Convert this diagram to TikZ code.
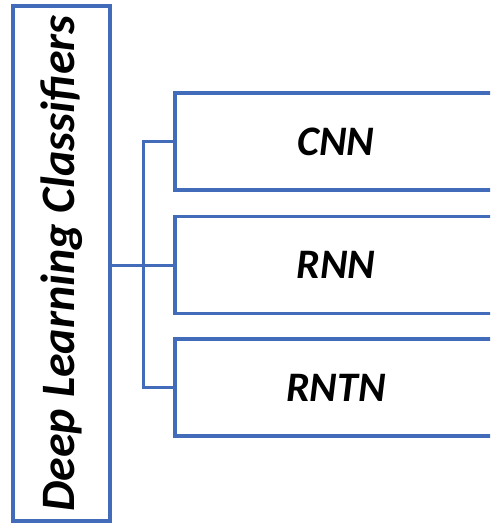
\documentclass[tikz,border=0pt]{standalone}
\usepackage{fontspec}
\setmainfont{Carlito}
\definecolor{boxblue}{RGB}{66,108,186}
\begin{document}
\begin{tikzpicture}[x=1pt,y=-1pt,
  frame/.style={draw=boxblue,line width=3.5pt,inner sep=0pt},
  leafbox/.style={frame,minimum width=322pt,minimum height=97pt},
  link/.style={draw=boxblue,line width=3pt},
  lbl/.style={font=\fontsize{42}{48}\selectfont\bfseries\itshape},
  rootlbl/.style={font=\fontsize{48}{54}\selectfont\bfseries\itshape}]
\useasboundingbox (0,0) rectangle (490,524);
\clip (0,0) rectangle (490,524);
\node[frame,minimum width=97pt,minimum height=515pt,rootlbl] (root) at (61.5,263.5)
  {\rotatebox{90}{Deep Learning Classifiers}};
\node[leafbox,lbl] (cnn) at (336,141.5) {CNN};
\node[leafbox,lbl] (rnn) at (336,265) {RNN};
\node[leafbox,lbl] (rntn) at (336,387.5) {RNTN};
\coordinate (j) at (143,265);
\draw[link] (root.east |- j) -- (rnn.west);
\draw[link] (cnn.west) -- (cnn.west -| j) -- (rntn.west -| j) -- (rntn.west);
\end{tikzpicture}
\end{document}
